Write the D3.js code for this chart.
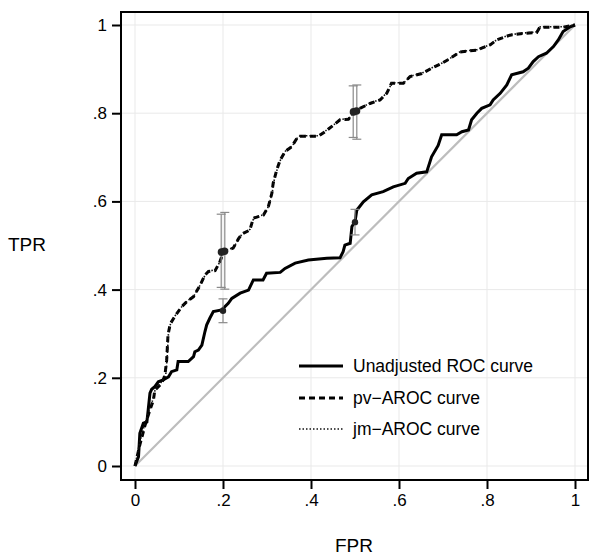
<!DOCTYPE html>
<html><head><meta charset="utf-8">
<script src="https://cdn.jsdelivr.net/npm/d3@7"></script>
<style>body{margin:0;background:#fff;} svg{display:block;font-family:"Liberation Sans",Arial,sans-serif;}</style>
</head><body><svg id="c" width="600" height="560"></svg>
<script>
const tickValues = [0, 0.2, 0.4, 0.6, 0.8, 1];
const tickLabels = ["0", ".2", ".4", ".6", ".8", "1"];
const seriesNames = ["Unadjusted ROC curve", "pv\u2212AROC curve", "jm\u2212AROC curve"];

// Unadjusted ROC curve [FPR, TPR]
const unadjusted = [[0,0],[.008,.021],[.011,.074],[.019,.097],[.027,.100],[.030,.127],[.034,.165],[.038,.174],[.045,.180],[.053,.191],[.064,.195],[.076,.202],[.083,.214],[.095,.218],[.098,.237],[.121,.237],[.133,.248],[.136,.259],[.144,.263],[.152,.274],[.159,.305],[.163,.320],[.170,.335],[.178,.350],[.197,.354],[.212,.369],[.220,.380],[.239,.392],[.258,.399],[.269,.422],[.291,.422],[.299,.437],[.330,.439],[.341,.448],[.364,.460],[.394,.467],[.436,.471],[.466,.472],[.473,.486],[.477,.501],[.489,.505],[.493,.543],[.500,.554],[.504,.580],[.519,.599],[.538,.615],[.564,.622],[.587,.633],[.614,.641],[.621,.652],[.640,.664],[.663,.667],[.674,.701],[.689,.727],[.697,.751],[.731,.751],[.743,.758],[.758,.762],[.765,.785],[.777,.800],[.788,.811],[.807,.819],[.814,.830],[.830,.845],[.845,.864],[.856,.887],[.882,.894],[.894,.902],[.905,.917],[.917,.928],[.935,.936],[.951,.951],[.962,.966],[.973,.985],[.989,.996],[1,1]];

// pv-AROC curve
const pvAROC = [[0,0],[.011,.048],[.023,.093],[.034,.127],[.042,.150],[.045,.172],[.057,.184],[.064,.195],[.068,.206],[.072,.240],[.075,.297],[.080,.322],[.091,.340],[.106,.361],[.118,.373],[.133,.384],[.148,.410],[.159,.433],[.167,.441],[.182,.443],[.193,.463],[.201,.486],[.223,.494],[.235,.515],[.243,.526],[.261,.535],[.269,.562],[.292,.569],[.303,.588],[.311,.618],[.314,.641],[.322,.671],[.330,.694],[.341,.713],[.356,.724],[.368,.743],[.375,.748],[.417,.748],[.432,.758],[.451,.773],[.466,.785],[.485,.786],[.496,.799],[.511,.811],[.534,.822],[.557,.830],[.572,.845],[.583,.868],[.610,.868],[.625,.883],[.652,.890],[.674,.902],[.697,.913],[.716,.924],[.739,.939],[.777,.943],[.807,.955],[.822,.966],[.852,.977],[.883,.981],[.913,.983],[.920,.995],[.973,.995],[1,1]];

// jm-AROC curve
const jmAROC = [[0,0],[.010,.050],[.022,.095],[.033,.128],[.041,.152],[.045,.170],[.056,.185],[.064,.196],[.070,.208],[.073,.245],[.076,.300],[.081,.324],[.092,.342],[.107,.362],[.119,.374],[.134,.386],[.149,.412],[.160,.434],[.168,.442],[.183,.445],[.194,.465],[.202,.488],[.224,.495],[.236,.516],[.244,.527],[.262,.537],[.270,.563],[.293,.570],[.304,.590],[.312,.620],[.315,.643],[.323,.672],[.331,.695],[.342,.714],[.357,.725],[.369,.744],[.376,.749],[.418,.749],[.433,.760],[.452,.774],[.467,.786],[.486,.788],[.497,.801],[.512,.812],[.535,.823],[.558,.832],[.573,.847],[.584,.869],[.611,.869],[.626,.884],[.653,.891],[.675,.903],[.698,.914],[.717,.925],[.740,.940],[.778,.944],[.808,.956],[.823,.967],[.853,.978],[.884,.982],[.914,.984],[.921,.996],[.974,.996],[1,1]];

// Points with confidence intervals at FPR = 0.2 and 0.5: [FPR, TPR, low, high]
const unadjustedCI = [[0.2, .352, .325, .379], [0.5, .553, .524, .582]];
const pvCI = [[0.2, .485, .405, .571], [0.5, .803, .745, .862]];
const jmCI = [[0.2, .487, .401, .575], [0.5, .805, .741, .864]];

const svg = d3.select("#c");
const x = d3.scaleLinear().domain([0, 1]).range([135, 575]);
const y = d3.scaleLinear().domain([0, 1]).range([466, 25]);
const L = 121, R = 588, T = 12, B = 480;

// gridlines
const g = svg.append("g");
g.selectAll(".gx").data(tickValues).enter().append("line")
  .attr("x1", d => x(d)).attr("x2", d => x(d)).attr("y1", T).attr("y2", B)
  .attr("stroke", "#e9e9e9").attr("stroke-width", 1);
g.selectAll(".gy").data(tickValues).enter().append("line")
  .attr("y1", d => y(d)).attr("y2", d => y(d)).attr("x1", L).attr("x2", R)
  .attr("stroke", "#e9e9e9").attr("stroke-width", 1);

// diagonal
svg.append("line").attr("x1", x(0)).attr("y1", y(0)).attr("x2", x(1)).attr("y2", y(1))
  .attr("stroke", "#bdbdbd").attr("stroke-width", 2.2);

const line = d3.line().x(d => x(d[0])).y(d => y(d[1])).curve(d3.curveLinear);

svg.append("path").datum(unadjusted).attr("d", line).attr("fill", "none")
  .attr("stroke", "#000").attr("stroke-width", 3).attr("stroke-linejoin", "miter");
svg.append("path").datum(pvAROC).attr("d", line).attr("fill", "none")
  .attr("stroke", "#000").attr("stroke-width", 3).attr("stroke-dasharray", "6,4");
svg.append("path").datum(jmAROC).attr("d", line).attr("fill", "none")
  .attr("stroke", "#111").attr("stroke-width", 1.6).attr("stroke-dasharray", "1.5,2");

// error bars
function bars(data, dx, cap) {
  const gg = svg.append("g").attr("stroke", "#8a8a8a").attr("stroke-width", 1.2);
  data.forEach(d => {
    const cx = x(d[0]) + dx;
    gg.append("line").attr("x1", cx).attr("x2", cx).attr("y1", y(d[2])).attr("y2", y(d[3]));
    gg.append("line").attr("x1", cx - cap).attr("x2", cx + cap).attr("y1", y(d[2])).attr("y2", y(d[2]));
    gg.append("line").attr("x1", cx - cap).attr("x2", cx + cap).attr("y1", y(d[3])).attr("y2", y(d[3]));
  });
}
bars(unadjustedCI, 0, 4.5);
bars(pvCI, -1.8, 4.5);
bars(jmCI, 1.8, 4.5);

// points
svg.selectAll(".pu").data(unadjustedCI).enter().append("circle")
  .attr("cx", d => x(d[0])).attr("cy", d => y(d[1])).attr("r", 3.2).attr("fill", "#222");
svg.selectAll(".pp").data(pvCI).enter().append("circle")
  .attr("cx", d => x(d[0]) - 1.5).attr("cy", d => y(d[1])).attr("r", 3.8).attr("fill", "#222");
svg.selectAll(".pj").data(jmCI).enter().append("circle")
  .attr("cx", d => x(d[0]) + 1.5).attr("cy", d => y(d[1])).attr("r", 3.8).attr("fill", "#222");

// frame
svg.append("rect").attr("x", L).attr("y", T).attr("width", R - L).attr("height", B - T)
  .attr("fill", "none").attr("stroke", "#000").attr("stroke-width", 2);

// axes
const fmt = d => tickLabels[tickValues.indexOf(d)];
const xAxis = svg.append("g").attr("transform", `translate(0,${B})`)
  .call(d3.axisBottom(x).tickValues(tickValues).tickFormat(fmt).tickSize(9).tickPadding(5));
const yAxis = svg.append("g").attr("transform", `translate(${L},0)`)
  .call(d3.axisLeft(y).tickValues(tickValues).tickFormat(fmt).tickSize(9).tickPadding(5));
[xAxis, yAxis].forEach(a => {
  a.select(".domain").remove();
  a.selectAll(".tick line").attr("stroke", "#000").attr("stroke-width", 2);
  a.selectAll(".tick text").attr("font-size", 17).attr("fill", "#000")
    .attr("font-family", '"Liberation Sans",Arial,sans-serif');
});

// axis titles
svg.append("text").attr("x", 354).attr("y", 552).attr("text-anchor", "middle")
  .attr("font-size", 19).text("FPR");
svg.append("text").attr("x", 27).attr("y", 251).attr("text-anchor", "middle")
  .attr("font-size", 19).text("TPR");

// legend
const legY = [366, 398, 429];
const styles = [
  {w: 3, dash: null, c: "#000"},
  {w: 3, dash: "6,4", c: "#000"},
  {w: 1.6, dash: "1.5,2", c: "#111"}
];
seriesNames.forEach((n, i) => {
  const ln = svg.append("line").attr("x1", 299).attr("x2", 343).attr("y1", legY[i]).attr("y2", legY[i])
    .attr("stroke", styles[i].c).attr("stroke-width", styles[i].w);
  if (styles[i].dash) ln.attr("stroke-dasharray", styles[i].dash);
  svg.append("text").attr("x", 353).attr("y", legY[i] + 6).attr("font-size", 17.5).text(n);
});
</script></body></html>
